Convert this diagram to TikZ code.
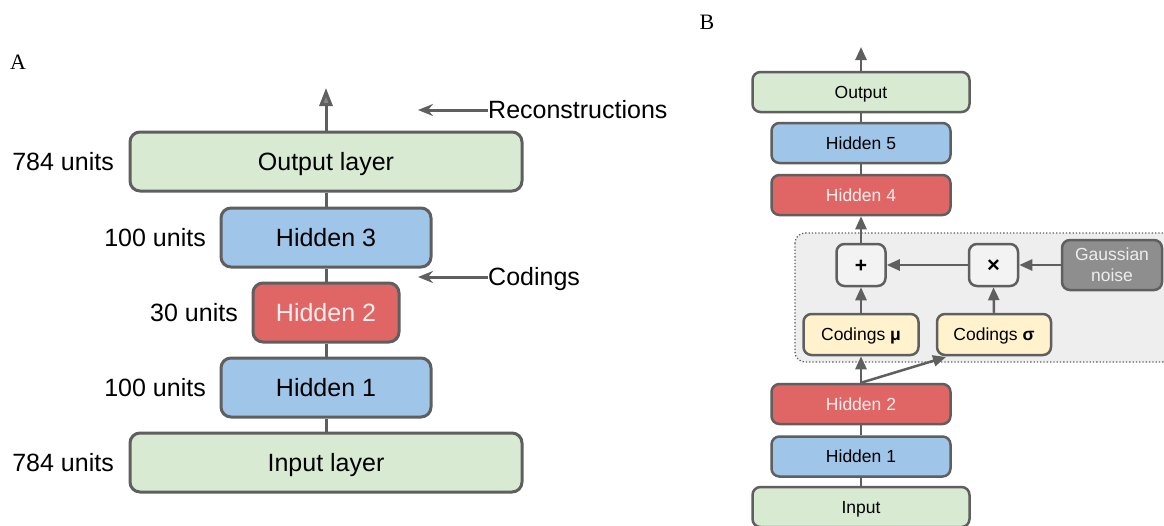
\documentclass[tikz,border=0pt]{standalone}
\usepackage{fontspec}
\setmainfont{Liberation Sans}
\newfontfamily\labelserif{Liberation Serif}
\usetikzlibrary{arrows.meta}

\definecolor{edgegray}{HTML}{5F5F5F}
\definecolor{layergreen}{HTML}{D9EAD3}
\definecolor{layerblue}{HTML}{9FC5E8}
\definecolor{layerred}{HTML}{E06666}
\definecolor{layeryellow}{HTML}{FFF2CC}
\definecolor{opgray}{HTML}{F3F3F3}
\definecolor{noisegray}{HTML}{8E8E8E}
\definecolor{regiongray}{HTML}{EEEEEE}
\definecolor{redtext}{HTML}{FDEDED}

\tikzset{
  bigtext/.style={font=\fontsize{25}{30}\selectfont, text height=17.9pt, text depth=0pt},
  smalltext/.style={font=\fontsize{17.5}{21}\selectfont, text height=12.5pt, text depth=0pt},
  layerA/.style={draw=edgegray, line width=3pt, rounded corners=10pt,
    inner sep=0pt, bigtext},
  layerB/.style={draw=edgegray, line width=2.5pt, rounded corners=8pt,
    inner sep=0pt, smalltext, minimum height=40pt},
  greenA/.style={layerA, fill=layergreen, minimum width=392pt, minimum height=59pt},
  blueA/.style={layerA, fill=layerblue, minimum width=210pt, minimum height=59pt},
  redA/.style={layerA, fill=layerred, text=redtext, minimum width=146pt, minimum height=59pt},
  greenB/.style={layerB, fill=layergreen, minimum width=217pt},
  blueB/.style={layerB, fill=layerblue, minimum width=179pt},
  redB/.style={layerB, fill=layerred, text=redtext, minimum width=179pt},
  codingbox/.style={layerB, fill=layeryellow, minimum height=41pt},
  opbox/.style={layerB, fill=opgray, minimum width=49pt, minimum height=42pt,
    font=\fontsize{21}{24}\selectfont\bfseries, text height=15pt},
  unitlabel/.style={bigtext, anchor=east, inner sep=0pt},
  linkA/.style={draw=edgegray, line width=3pt},
  linkB/.style={draw=edgegray, line width=2.5pt},
  arrowB/.style={linkB, -{Triangle[length=13pt,width=11pt]}},
  pointer/.style={linkA, -{Stealth[length=15pt,width=12pt,inset=5pt]}},
  panellabel/.style={font=\labelserif\fontsize{22}{26}\selectfont, inner sep=0pt},
}

\begin{document}
\begin{tikzpicture}[x=1pt, y=-1pt]
  \useasboundingbox (0,0) rectangle (1164,525);
  \clip (0,0) rectangle (1164,525);
  \fill[white] (0,0) rectangle (1164,525);

  % ---------------- Panel A: stacked autoencoder ----------------
  \node[panellabel] (labA) at (18,62) {A};

  \node[greenA] (outA) at (326,161.5) {Output layer};
  \node[blueA]  (h3A)  at (326,237.5) {Hidden 3};
  \node[redA]   (h2A)  at (326,312.5) {Hidden 2};
  \node[blueA]  (h1A)  at (326,387.5) {Hidden 1};
  \node[greenA] (inA)  at (326,462.5) {Input layer};

  \node[unitlabel] (uOut) at (114,162) {784 units};
  \node[unitlabel] (uH3)  at (206,238) {100 units};
  \node[unitlabel] (uH2)  at (238,313) {30 units};
  \node[unitlabel] (uH1)  at (206,388) {100 units};
  \node[unitlabel] (uIn)  at (114,463) {784 units};

  \draw[linkA] (inA.north) -- (h1A.south);
  \draw[linkA] (h1A.north) -- (h2A.south);
  \draw[linkA] (h2A.north) -- (h3A.south);
  \draw[linkA] (h3A.north) -- (outA.south);
  \coordinate (topA) at (326,88);
  \draw[linkA, -{Triangle[length=18pt,width=13pt,fill=edgegray!75]}] (outA.north) -- (topA);

  \node[bigtext, anchor=west, inner sep=0pt] (recon) at (488,110) {Reconstructions};
  \node[bigtext, anchor=west, inner sep=0pt] (codA)  at (488,277) {Codings};
  \coordinate (reconTip) at (418,110);
  \coordinate (codTip)   at (418,277);
  \draw[pointer] (recon.west) -- (reconTip);
  \draw[pointer] (codA.west) -- (codTip);

  % ---------------- Panel B: variational autoencoder ----------------
  \node[panellabel] (labB) at (707,22) {B};

  % sampling region
  \draw[edgegray, dotted, line width=1.3pt, fill=regiongray, rounded corners=10pt]
    (795,233) rectangle (1180,362);

  \node[greenB] (outB) at (861,92)  {Output};
  \node[blueB]  (h5B)  at (861,143) {Hidden 5};
  \node[redB]   (h4B)  at (861,195) {Hidden 4};

  \node[opbox] (plus)  at (861,265)   {+};
  \node[opbox] (times) at (993.5,265) {\fontsize{22}{24}\selectfont×};
  \node[layerB, fill=noisegray, text=regiongray, minimum width=100pt,
        minimum height=50pt, align=center, text height=, text depth=,
        font=\fontsize{17.5}{21}\selectfont] (noise) at (1112,265) {Gaussian\\noise};

  \node[codingbox, minimum width=115pt] (cmu)  at (861,334.5) {Codings \textbf{μ}};
  \node[codingbox, minimum width=114pt] (csig) at (994,334.5) {Codings \textbf{σ}};

  \node[redB]   (h2B) at (861,404)   {Hidden 2};
  \node[blueB]  (h1B) at (861,456.5) {Hidden 1};
  \node[greenB] (inB) at (861,507)   {Input};

  \draw[linkB] (inB.north) -- (h1B.south);
  \draw[linkB] (h1B.north) -- (h2B.south);
  \draw[arrowB] (h2B.north) -- (cmu.south);
  \coordinate (sigIn) at (946,357);
  \draw[arrowB] (h2B.north) -- (sigIn);
  \draw[arrowB] (cmu.north) -- (plus.south);
  \draw[arrowB] (csig.north) -- (times.south);
  \draw[arrowB] (noise.west) -- (times.east);
  \draw[arrowB] (times.west) -- (plus.east);
  \draw[arrowB] (plus.north) -- (h4B.south);
  \draw[linkB] (h4B.north) -- (h5B.south);
  \draw[linkB] (h5B.north) -- (outB.south);
  \coordinate (topB) at (861,47);
  \draw[arrowB] (outB.north) -- (topB);
\end{tikzpicture}
\end{document}
